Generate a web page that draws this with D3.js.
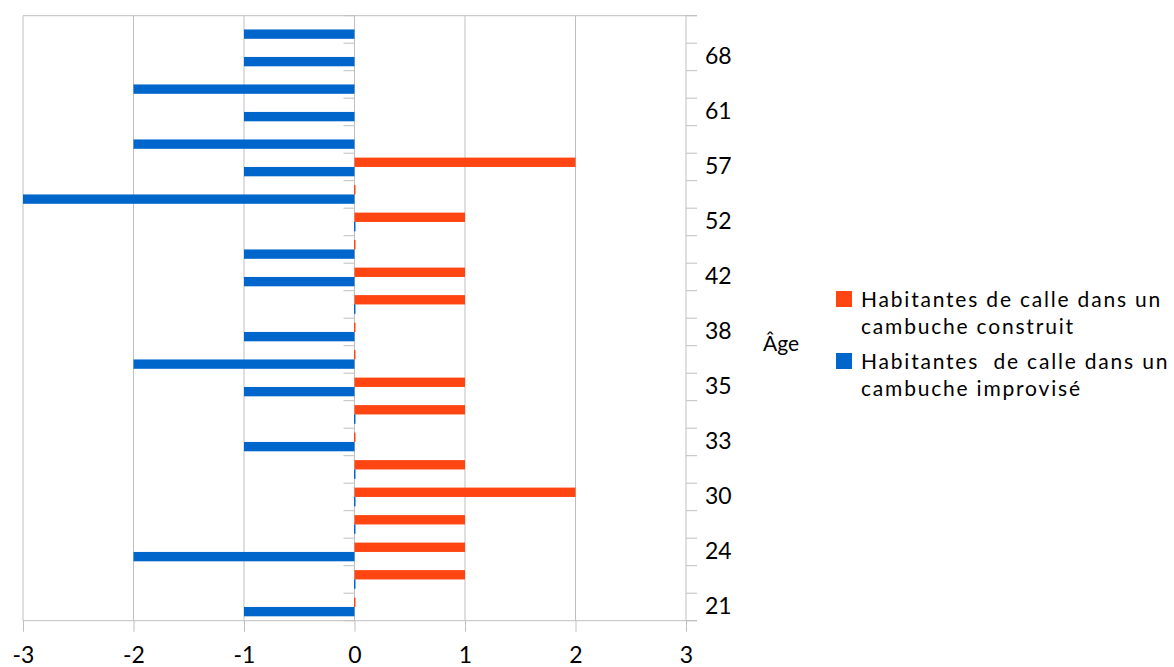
<!DOCTYPE html>
<html>
<head>
<meta charset="utf-8">
<script src="https://cdn.jsdelivr.net/npm/d3@7"></script>
<style>
  html, body { margin: 0; padding: 0; background: #fff; }
  svg { display: block; font-family: Lato, "Noto Sans", sans-serif; }
</style>
</head>
<body>
<svg id="chart" width="1174" height="667"></svg>
<script>
// ---- data (bottom to top) ----
const ages = ["21","23","24","27","30","32","33","34","35","37","38","40","42","48","52","55","57","59","61","65","68","70"];
const construit = [0, 1, 1, 1, 2, 1, 0, 1, 1, 0, 0, 1, 1, 0, 1, 0, 2, null, null, null, null, null];
const improvise = [-1, 0, -2, 0, 0, 0, -1, 0, -1, -2, -1, 0, -1, -1, 0, -3, -1, -2, -1, -2, -1, -1];
const xTicks = [-3, -2, -1, 0, 1, 2, 3];
const legendLines = [["Habitantes de calle dans un", "cambuche construit"], ["Habitantes  de calle dans un", "cambuche improvisé"]];
const axisTitle = "Âge";
const colors = ["#FF4512", "#0066CC"];

// ---- layout ----
const svg = d3.select("#chart");
const pLeft = 23, pRight = 686, pTop = 15.7, pBottom = 620.7;
const gridColor = "#BFBFBF";
const pad = 0.32;

const x = d3.scaleLinear().domain([-3, 3]).range([pLeft, pRight]);
const y = d3.scaleBand().domain(ages).range([pBottom, pTop]).paddingInner(pad).paddingOuter(pad / 2);
const sub = d3.scaleBand().domain([0, 1]).range([0, y.bandwidth()]);
const step = y.step();

// gridlines
svg.append("g").selectAll("line").data(xTicks).join("line")
  .attr("x1", d => x(d)).attr("x2", d => x(d))
  .attr("y1", pTop).attr("y2", pBottom)
  .attr("stroke", gridColor).attr("stroke-width", 1);

// top border
svg.append("line").attr("x1", pLeft).attr("x2", pRight + 11).attr("y1", pTop).attr("y2", pTop)
  .attr("stroke", gridColor);

// bottom axis
const xAxis = svg.append("g").attr("transform", `translate(0,${pBottom})`)
  .call(d3.axisBottom(x).tickValues(xTicks).tickSize(11).tickSizeOuter(0).tickPadding(15)
    .tickFormat(d3.format("d")));
xAxis.select(".domain").remove();
xAxis.selectAll("line").attr("stroke", gridColor);
xAxis.selectAll("text").attr("font-size", 23).attr("fill", "#000").attr("font-family", "Lato, sans-serif")
  .text(d => (d < 0 ? "-" + Math.abs(d) : String(d)));
svg.append("line").attr("x1", pLeft).attr("x2", pRight + 11).attr("y1", pBottom).attr("y2", pBottom)
  .attr("stroke", gridColor);

// category boundary ticks
const bounds = ages.map(a => y(a) + y.bandwidth() + step * pad / 2);
bounds.push(pTop);
svg.append("g").selectAll("line").data(bounds).join("line")
  .attr("x1", x(0) - 11).attr("x2", x(0)).attr("y1", d => d).attr("y2", d => d)
  .attr("stroke", gridColor);
svg.append("g").selectAll("line").data(bounds).join("line")
  .attr("x1", pRight).attr("x2", pRight + 11).attr("y1", d => d).attr("y2", d => d)
  .attr("stroke", gridColor);

// bars
const series = [construit, improvise];
series.forEach((vals, si) => {
  svg.append("g").selectAll("rect")
    .data(vals.map((v, i) => ({ v, age: ages[i] })).filter(d => d.v !== null))
    .join("rect")
    .attr("x", d => d.v === 0 ? x(0) - 0.5 : Math.min(x(0), x(d.v)))
    .attr("width", d => d.v === 0 ? 1.5 : Math.abs(x(d.v) - x(0)))
    .attr("y", d => y(d.age) + sub(si))
    .attr("height", sub.bandwidth())
    .attr("fill", colors[si]);
});

// right category labels (every other)
const yAxis = svg.append("g").attr("transform", `translate(${pRight},0)`)
  .call(d3.axisRight(y).tickValues(ages.filter((a, i) => i % 2 === 0)).tickSize(0).tickPadding(19));
yAxis.select(".domain").remove();
yAxis.selectAll("text").attr("font-size", 23).attr("fill", "#000").attr("font-family", "Lato, sans-serif");

// axis title
svg.append("text").attr("x", 763).attr("y", 351).attr("font-size", 21).attr("fill", "#000")
  .text(axisTitle);

// legend
const legY = [291, 353];
legendLines.forEach((lines, i) => {
  const g = svg.append("g");
  g.append("rect").attr("x", 836).attr("y", legY[i]).attr("width", 16).attr("height", 16).attr("fill", colors[i]);
  lines.forEach((t, j) => {
    g.append("text").attr("x", 861).attr("y", legY[i] + 16 + j * 26.5)
      .attr("font-size", 21).attr("letter-spacing", 1.8).attr("fill", "#000")
      .style("white-space", "pre").text(t);
  });
});
</script>
</body>
</html>
